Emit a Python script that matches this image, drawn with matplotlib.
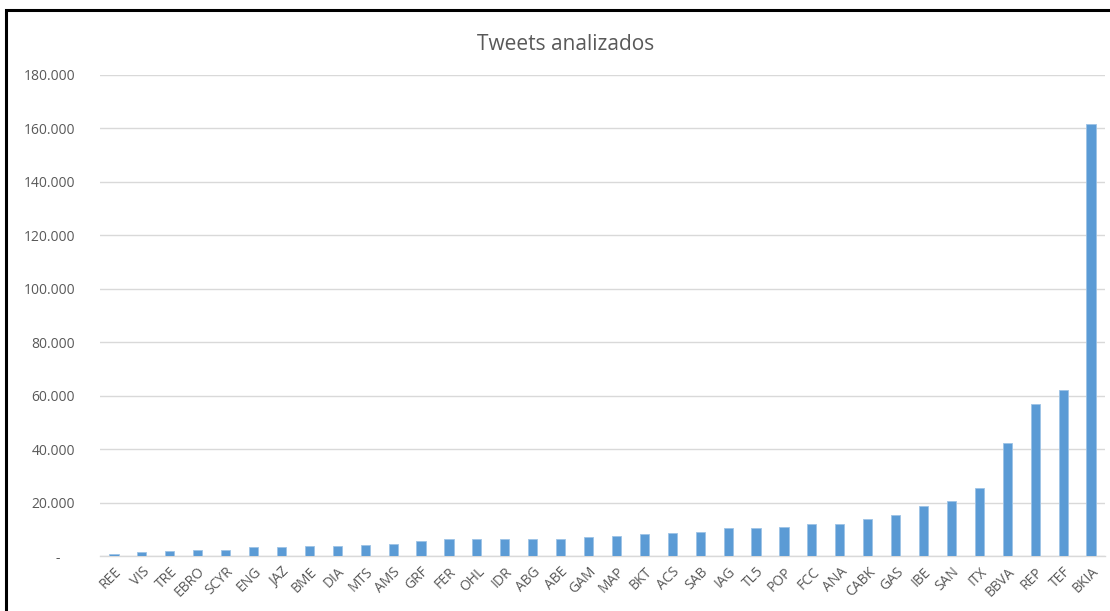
import matplotlib
matplotlib.use("Agg")
import matplotlib.pyplot as plt
from matplotlib.patches import Rectangle
from matplotlib.ticker import FuncFormatter

empresas = ["REE", "VIS", "TRE", "EBRO", "SCYR", "ENG", "JAZ", "BME", "DIA", "MTS",
            "AMS", "GRF", "FER", "OHL", "IDR", "ABG", "ABE", "GAM", "MAP", "BKT",
            "ACS", "SAB", "IAG", "TL5", "POP", "FCC", "ANA", "CABK", "GAS", "IBE",
            "SAN", "ITX", "BBVA", "REP", "TEF", "BKIA"]
tweets = [750, 1380, 1760, 2140, 2390, 3400, 3400, 3770, 3770, 4280,
          4650, 5530, 6290, 6290, 6540, 6540, 6540, 7170, 7420, 8050,
          8430, 9060, 10310, 10570, 10940, 12080, 12080, 13840, 15350, 18700,
          20600, 25300, 42300, 56800, 62100, 161800]
y_ticks = [0, 20000, 40000, 60000, 80000, 100000, 120000, 140000, 160000, 180000]
titulo = "Tweets analizados"

plt.rcParams['font.family'] = ['Open Sans', 'DejaVu Sans']
W, H = 1110, 611
fig = plt.figure(figsize=(W / 100, H / 100), dpi=100)
fig.patch.set_facecolor("white")

# outer frame of the chart area
fig.patches.append(Rectangle((6 / W, -0.1), 1.2, (H - 10) / H + 0.1,
                             transform=fig.transFigure, fill=False,
                             edgecolor="black", linewidth=2.2))

ax = fig.add_axes([100 / W, (H - 556) / H, 1005 / W, 481 / H])
x = range(len(empresas))
ax.bar(x, tweets, width=0.33, color="#5B9BD5", edgecolor="#9DC3E6",
       linewidth=0.6, zorder=3)
ax.set_xlim(-0.5, len(empresas) - 0.5)
ax.set_ylim(0, 180000)
ax.set_yticks(y_ticks)

def fmt(v, pos):
    if v == 0:
        return "-    "
    return f"{int(v):,}".replace(",", ".")

ax.yaxis.set_major_formatter(FuncFormatter(fmt))
ax.grid(axis="y", color="#D9D9D9", linewidth=1.0, zorder=0)
for s in ["top", "right", "left"]:
    ax.spines[s].set_visible(False)
ax.spines["bottom"].set_color("#D9D9D9")
ax.spines["bottom"].set_linewidth(1.0)
ax.tick_params(axis="both", length=0, colors="#595959", labelsize=10)
ax.tick_params(axis="y", pad=18)
ax.set_xticks(list(x))
ax.set_xticklabels(empresas, rotation=45, ha="right", va="top",
                   rotation_mode="anchor")
ax.tick_params(axis="x", pad=6)

fig.text(566 / W, 1 - 44 / H, titulo, ha="center", va="center",
         fontsize=15, color="#595959")

fig.savefig("out.png", dpi=100, facecolor="white")
